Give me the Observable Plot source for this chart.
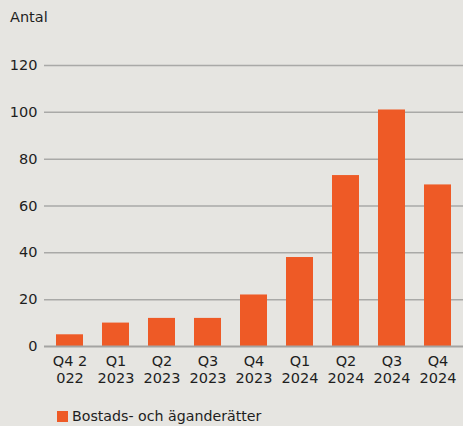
<!DOCTYPE html>
<html>
<head>
<meta charset="utf-8">
<script src="https://cdn.jsdelivr.net/npm/d3@7"></script>
<script src="https://cdn.jsdelivr.net/npm/@observablehq/plot@0.6"></script>
<style>
  html, body { margin: 0; padding: 0; background: #e6e5e1; }
  body { width: 463px; height: 426px; position: relative; overflow: hidden; font-family: "DejaVu Sans", sans-serif; color: #1e1e1e; }
  #title { position: absolute; left: 10px; top: 9px; font-size: 14.5px; }
  #chart { position: absolute; left: 0; top: 0; }
  #legend { position: absolute; left: 57px; top: 408px; font-size: 14.2px; display: flex; align-items: center; }
  #legend .sw { width: 11px; height: 11px; background: #ee5a26; margin-right: 4px; }
</style>
</head>
<body>
<div id="chart"></div>
<div id="title">Antal</div>
<div id="legend"><span class="sw"></span><span>Bostads- och äganderätter</span></div>
<script>
const categories = ["Q4 2022", "Q1 2023", "Q2 2023", "Q3 2023", "Q4 2023", "Q1 2024", "Q2 2024", "Q3 2024", "Q4 2024"];
const tickLabels = ["Q4 2\n022", "Q1\n2023", "Q2\n2023", "Q3\n2023", "Q4\n2023", "Q1\n2024", "Q2\n2024", "Q3\n2024", "Q4\n2024"];
const values = [5, 10, 12, 12, 22, 38, 73, 101, 69];
const yTicks = [0, 20, 40, 60, 80, 100, 120];

const data = categories.map((c, i) => ({cat: c, value: values[i]}));
const labelOf = new Map(categories.map((c, i) => [c, tickLabels[i]]));

const chart = Plot.plot({
  width: 463,
  height: 400,
  marginTop: 65,
  marginBottom: 54,
  marginLeft: 44,
  marginRight: 0,
  style: {background: "transparent", fontFamily: "'DejaVu Sans', sans-serif", fontSize: "14.5px", color: "#1e1e1e"},
  x: {domain: categories, paddingInner: 0.42, paddingOuter: 0.21, axis: null},
  y: {domain: [0, 120], axis: null},
  marks: [
    Plot.ruleY(yTicks.filter(d => d > 0), {stroke: "#a9a9a7", strokeWidth: 1.5}),
    Plot.barY(data, {x: "cat", y: "value", fill: "#ee5a26"}),
    Plot.ruleY([0], {stroke: "#a4a4a2", strokeWidth: 2}),
    Plot.axisY({ticks: yTicks, tickSize: 0, tickPadding: 7, fontSize: 14.5, fill: "#1e1e1e", label: null}),
    Plot.axisX({tickSize: 0, tickPadding: 7, tickFormat: d => labelOf.get(d), fontSize: 14.5, lineHeight: 1.2, fill: "#1e1e1e", label: null})
  ]
});
document.getElementById("chart").appendChild(chart);
</script>
</body>
</html>
